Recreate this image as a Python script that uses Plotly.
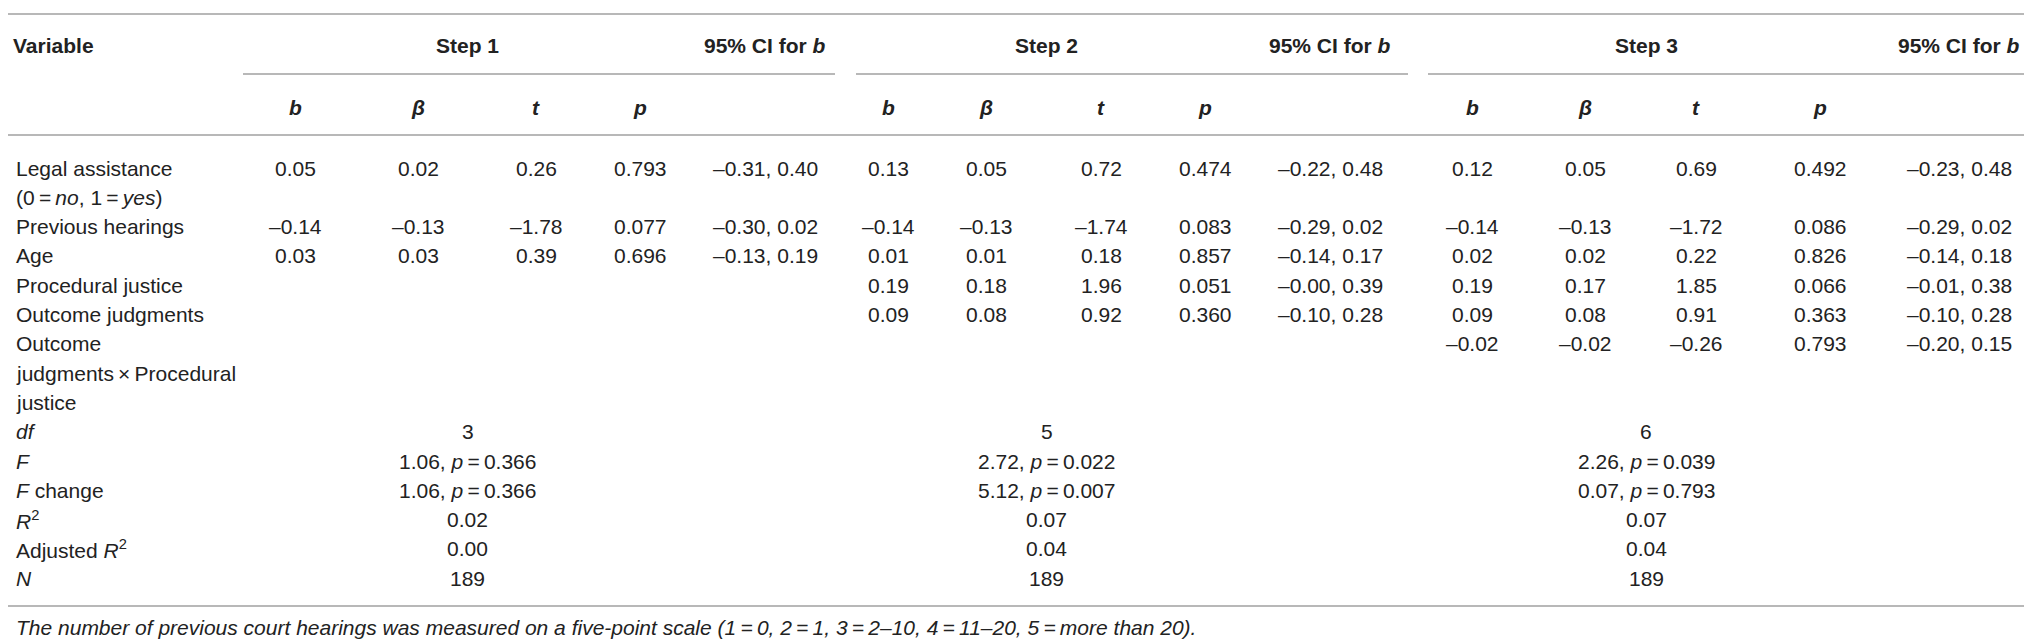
import plotly.graph_objects as go

# ---- table content ----
steps = ["Step 1", "Step 2", "Step 3"]
ci_header = "95% CI for <i>b</i>"
sub_headers = ["<i>b</i>", "<i>β</i>", "<i>t</i>", "<i>p</i>", ""]

variables = [
    "Legal assistance",
    "(0\u2009=\u2009<i>no</i>, 1\u2009=\u2009<i>yes</i>)",
    "Previous hearings",
    "Age",
    "Procedural justice",
    "Outcome judgments",
    "Outcome",
    "judgments\u2009×\u2009Procedural",
    "justice",
    "<i>df</i>",
    "<i>F</i>",
    "<i>F</i> change",
    "<i>R</i><sup>2</sup>",
    "Adjusted <i>R</i><sup>2</sup>",
    "<i>N</i>",
]
# label line on which each predictor's values are printed
predictor_lines = [0, 2, 3, 4, 5, 6]

step1_b = ["0.05", "–0.14", "0.03", None, None, None]
step1_beta = ["0.02", "–0.13", "0.03", None, None, None]
step1_t = ["0.26", "–1.78", "0.39", None, None, None]
step1_p = ["0.793", "0.077", "0.696", None, None, None]
step1_ci = ["–0.31, 0.40", "–0.30, 0.02", "–0.13, 0.19", None, None, None]

step2_b = ["0.13", "–0.14", "0.01", "0.19", "0.09", None]
step2_beta = ["0.05", "–0.13", "0.01", "0.18", "0.08", None]
step2_t = ["0.72", "–1.74", "0.18", "1.96", "0.92", None]
step2_p = ["0.474", "0.083", "0.857", "0.051", "0.360", None]
step2_ci = ["–0.22, 0.48", "–0.29, 0.02", "–0.14, 0.17", "–0.00, 0.39",
            "–0.10, 0.28", None]

step3_b = ["0.12", "–0.14", "0.02", "0.19", "0.09", "–0.02"]
step3_beta = ["0.05", "–0.13", "0.02", "0.17", "0.08", "–0.02"]
step3_t = ["0.69", "–1.72", "0.22", "1.85", "0.91", "–0.26"]
step3_p = ["0.492", "0.086", "0.826", "0.066", "0.363", "0.793"]
step3_ci = ["–0.23, 0.48", "–0.29, 0.02", "–0.14, 0.18", "–0.01, 0.38",
            "–0.10, 0.28", "–0.20, 0.15"]

stat_lines = [9, 10, 11, 12, 13, 14]
step1_stats = ["3", "1.06, <i>p</i>\u2009=\u20090.366", "1.06, <i>p</i>\u2009=\u20090.366",
               "0.02", "0.00", "189"]
step2_stats = ["5", "2.72, <i>p</i>\u2009=\u20090.022", "5.12, <i>p</i>\u2009=\u20090.007",
               "0.07", "0.04", "189"]
step3_stats = ["6", "2.26, <i>p</i>\u2009=\u20090.039", "0.07, <i>p</i>\u2009=\u20090.793",
               "0.07", "0.04", "189"]

footnote = ("<i>The number of previous court hearings was measured on a five-point scale "
            "(1\u2009=\u20090, 2\u2009=\u20091, 3\u2009=\u20092–10, 4\u2009=\u200911–20, "
            "5\u2009=\u2009more than 20).</i>")

# ---- layout geometry (pixels) ----
W, H = 2032, 640
FONT = "Liberation Sans, Arial, Helvetica, sans-serif"
SIZE = 21
INK = "#222222"
RULE = "#b8b8b8"

col_x = [
    [287, 410, 528, 632, 757],
    [880, 978, 1093, 1197, 1322],
    [1464, 1577, 1688, 1812, 1951],
]
step_line_span = [(235, 827), (848, 1400), (1420, 2030)]
label_x = 6
y_head1, y_head2 = 37, 99
y_first, line_step = 160, 29.3
y_rules = [6, 127, 598]
y_step_rule = 66
y_foot = 619

step_values = [
    [step1_b, step1_beta, step1_t, step1_p, step1_ci],
    [step2_b, step2_beta, step2_t, step2_p, step2_ci],
    [step3_b, step3_beta, step3_t, step3_p, step3_ci],
]
step_stats = [step1_stats, step2_stats, step3_stats]


def line_y(i):
    return y_first + line_step * i


annotations = []


def cell(x, y, text, anchor="center", bold=False):
    if bold:
        text = "<b>" + text + "</b>"
    annotations.append(dict(
        x=x, y=y, xref="x", yref="y", text=text, showarrow=False,
        xanchor=anchor, yanchor="middle",
        font=dict(family=FONT, size=SIZE, color=INK),
    ))


# header rows
cell(label_x - 3, y_head1, "Variable", anchor="left", bold=True)
for k, name in enumerate(steps):
    xs = col_x[k]
    cell((xs[0] + xs[3]) / 2, y_head1, name, bold=True)
    cell(xs[4], y_head1, ci_header, bold=True)
    for j, sh in enumerate(sub_headers):
        if sh:
            cell(xs[j], y_head2, sh, bold=True)

# variable labels
for i, name in enumerate(variables):
    cell(label_x, line_y(i), name, anchor="left")

# coefficients
for k, cols in enumerate(step_values):
    for j, values in enumerate(cols):
        for r, v in enumerate(values):
            if v is not None:
                cell(col_x[k][j], line_y(predictor_lines[r]), v)

# model statistics, centred under each step
for k, stats in enumerate(step_stats):
    xs = col_x[k]
    for r, v in enumerate(stats):
        cell((xs[0] + xs[3]) / 2, line_y(stat_lines[r]), v)

cell(label_x, y_foot, footnote, anchor="left")

shapes = []
for y in y_rules:
    shapes.append(dict(type="line", xref="x", yref="y", x0=0, x1=W, y0=y, y1=y,
                       line=dict(color=RULE, width=2)))
for x0, x1 in step_line_span:
    shapes.append(dict(type="line", xref="x", yref="y", x0=x0, x1=x1,
                       y0=y_step_rule, y1=y_step_rule,
                       line=dict(color=RULE, width=2)))

fig = go.Figure()
fig.update_layout(
    width=W, height=H,
    margin=dict(l=0, r=0, t=0, b=0),
    paper_bgcolor="white", plot_bgcolor="white",
    xaxis=dict(range=[0, W], visible=False, fixedrange=True),
    yaxis=dict(range=[H, 0], visible=False, fixedrange=True),
    annotations=annotations,
    shapes=shapes,
    showlegend=False,
)
fig.write_html("out.html", config={"displayModeBar": False})
